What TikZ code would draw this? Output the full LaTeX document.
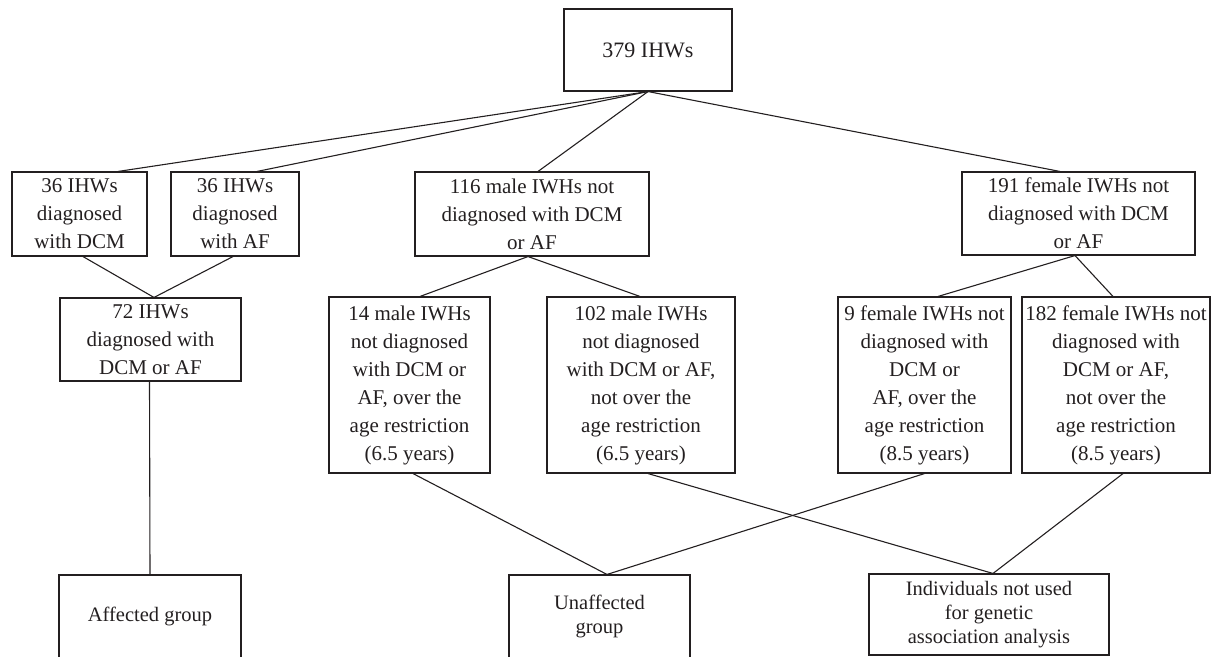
\documentclass[tikz,border=0pt]{standalone}
\usepackage{fontspec}
\setmainfont{Liberation Serif}
\usetikzlibrary{calc}
\definecolor{ink}{HTML}{231F20}
\begin{document}
\begin{tikzpicture}[x=1pt,y=-1pt,
  box/.style={draw=ink, line width=1.1pt, align=center, inner sep=0pt,
    font=\fontsize{21}{28}\selectfont, text=ink},
  endbox/.style={box, font=\fontsize{20.5}{24}\selectfont},
  link/.style={draw=ink, line width=1.1pt}]
\useasboundingbox (0,0) rectangle (1215,656);
\clip (0,0) rectangle (1215,656);

\node[box, minimum width=168pt, minimum height=82pt, font=\fontsize{22}{28}\selectfont] (top) at (648,50) {379 IHWs};

\node[box, minimum width=135pt, minimum height=84pt] (dcm) at (79.5,214) {36 IHWs\\diagnosed\\with DCM};
\node[box, minimum width=128pt, minimum height=84pt] (af) at (235,214) {36 IHWs\\diagnosed\\with AF};
\node[box, minimum width=234pt, minimum height=84pt] (m116) at (532,214) {116 male IWHs not\\diagnosed with DCM\\or AF};
\node[box, minimum width=233pt, minimum height=83pt] (f191) at (1078.5,213.5) {191 female IWHs not\\diagnosed with DCM\\or AF};

\node[box, minimum width=181pt, minimum height=83pt] (c72) at (150.5,339.5) {72 IHWs\\diagnosed with\\DCM or AF};
\node[box, minimum width=161pt, minimum height=176pt] (m14) at (409.5,385) {14 male IWHs\\not diagnosed\\with DCM or\\AF, over the\\age restriction\\(6.5 years)};
\node[box, minimum width=188pt, minimum height=176pt] (m102) at (641,385) {102 male IWHs\\not diagnosed\\with DCM or AF,\\not over the\\age restriction\\(6.5 years)};
\node[box, minimum width=173pt, minimum height=176pt] (f9) at (924.5,385) {9 female IWHs not\\diagnosed with\\DCM or\\AF, over the\\age restriction\\(8.5 years)};
\node[box, minimum width=188pt, minimum height=176pt] (f182) at (1116,385) {182 female IWHs not\\diagnosed with\\DCM or AF,\\not over the\\age restriction\\(8.5 years)};

\node[endbox, minimum width=182pt, minimum height=83pt] (aff) at (150,616.5) {Affected group};
\node[endbox, minimum width=181pt, minimum height=83pt] (unaff) at (599.5,616.5) {Unaffected\\group};
\node[endbox, minimum width=240pt, minimum height=81pt] (indiv) at (989,614.5) {Individuals not used\\for genetic\\association analysis};

\draw[link] (top.south) -- ($(dcm.north)+(38.5,0)$);
\draw[link] (top.south) -- ($(af.north)+(22,0)$);
\draw[link] (top.south) -- ($(m116.north)+(6,0)$);
\draw[link] (top.south) -- ($(f191.north)+(-18.5,0)$);

\draw[link] ($(dcm.south)+(3.5,0)$) -- ($(c72.north)+(3.5,0)$);
\draw[link] ($(af.south)+(-2,0)$) -- ($(c72.north)+(3.5,0)$);

\draw[link] ($(m116.south)+(-4,0)$) -- ($(m14.north)+(10.5,0)$);
\draw[link] ($(m116.south)+(-4,0)$) -- ($(m102.north)+(-1,0)$);

\draw[link] ($(f191.south)+(-3.5,0)$) -- ($(f9.north)+(13.5,0)$);
\draw[link] ($(f191.south)+(-3.5,0)$) -- ($(f182.north)+(-3,0)$);

\draw[link] ($(c72.south)+(-1,0)$) -- (aff.north);

\draw[link] ($(m14.south)+(3.5,0)$) -- ($(unaff.north)+(7.5,0)$);
\draw[link] (f9.south) -- ($(unaff.north)+(7.5,0)$);
\draw[link] ($(m102.south)+(7,0)$) -- ($(indiv.north)+(4,0)$);
\draw[link] ($(f182.south)+(7,0)$) -- ($(indiv.north)+(4,0)$);
\end{tikzpicture}
\end{document}
